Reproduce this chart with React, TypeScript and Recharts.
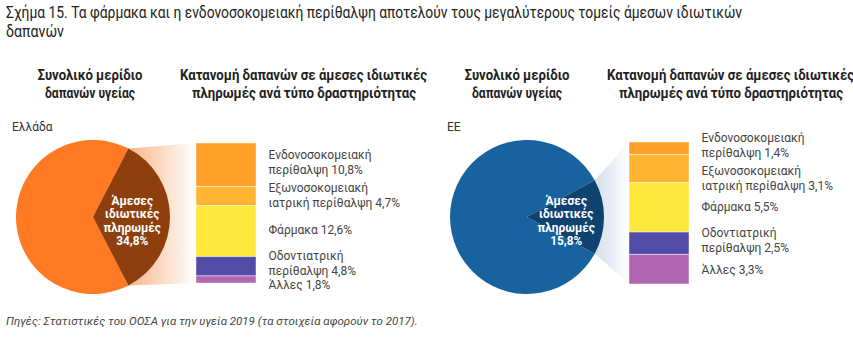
import { PieChart, Pie, Cell, Sector, BarChart, Bar, XAxis, YAxis, LabelList } from "recharts"

// categories of direct private payments, top of the bar first
const categoryKeys = ["inpatient", "outpatient", "pharma", "dental", "other"]
const categoryLines = [
  ["Ενδονοσοκομειακή", "περίθαλψη"],
  ["Εξωνοσοκομειακή", "ιατρική περίθαλψη"],
  ["Φάρμακα"],
  ["Οδοντιατρική", "περίθαλψη"],
  ["Άλλες"],
]
const greeceValues = [10.8, 4.7, 12.6, 4.8, 1.8]
const euValues = [1.4, 3.1, 5.5, 2.5, 3.3]
const greeceShare = 34.8
const euShare = 15.8
const barColors = ["#FFA02A", "#FFB531", "#FFE83B", "#524CA6", "#B066B3"]

const title1 = "Σχήμα 15. Τα φάρμακα και η ενδονοσοκομειακή περίθαλψη αποτελούν τους μεγαλύτερους τομείς άμεσων ιδιωτικών"
const title2 = "δαπανών"
const source = "Πηγές: Στατιστικές του ΟΟΣΑ για την υγεία 2019 (τα στοιχεία αφορούν το 2017)."

const FONT = "Roboto, 'Noto Sans', sans-serif"
const R = 77
const PIE_TOP = 100
const PAD = 24

const fmt = (v: number) => v.toFixed(1).replace(".", ",") + "%"

const panels = [
  {
    id: "gr", name: "Ελλάδα", share: greeceShare, values: greeceValues,
    pieColor: "#FF7A22", sliceColor: "#8E3F0E", fanColor: "#F7B588",
    left: 0, barX: 196, barTop: 143, barH: 140,
    shifts: [-2.5, -0.5, -1, -2.5, 6],
  },
  {
    id: "eu", name: "ΕΕ", share: euShare, values: euValues,
    pieColor: "#18639F", sliceColor: "#0E426F", fanColor: "#A8BED7",
    left: 434, barX: 629, barTop: 142, barH: 142,
    shifts: [-3, 9.5, 0, -2.5, 1],
  },
]

function Panel({ p }: { p: (typeof panels)[number] }) {
  const pieData = [
    { name: "Άμεσες ιδιωτικές πληρωμές", value: p.share },
    { name: "rest", value: 100 - p.share },
  ]
  const start = -(p.share * 3.6) / 2
  const barRow: Record<string, number | string> = { name: p.id }
  categoryKeys.forEach((k, i) => (barRow[k] = p.values[i]))
  const total = p.values.reduce((a, b) => a + b, 0)
  const fx = p.barX - p.left
  const fTop = p.barTop - PIE_TOP
  const fBot = p.barTop + p.barH - PIE_TOP

  const renderSlice = (props: any) => {
    if (props.index !== 0) return null
    const { cx, cy, outerRadius, midAngle, percent } = props
    const half = percent * 180
    const a1 = (midAngle + half) * (Math.PI / 180)
    const a2 = (midAngle - half) * (Math.PI / 180)
    const ux = cx + outerRadius * Math.cos(a1)
    const uy = cy - outerRadius * Math.sin(a1)
    const lx = cx + outerRadius * Math.cos(a2)
    const ly = cy - outerRadius * Math.sin(a2)
    const tx = cx + outerRadius * 0.51
    const lines = ["Άμεσες", "ιδιωτικές", "πληρωμές", fmt(p.share)]
    return (
      <g>
        <defs>
          <linearGradient id={"fan-" + p.id} gradientUnits="userSpaceOnUse" x1={cx + outerRadius * 0.45} y1={0} x2={fx} y2={0}>
            <stop offset="0" stopColor={p.fanColor} />
            <stop offset="1" stopColor="#FFFFFF" />
          </linearGradient>
        </defs>
        <polygon
          points={`${cx},${cy} ${ux},${uy} ${fx},${fTop} ${fx},${fBot} ${lx},${ly}`}
          fill={`url(#fan-${p.id})`}
        />
        <Sector cx={cx} cy={cy} innerRadius={0} outerRadius={outerRadius}
          startAngle={midAngle - half} endAngle={midAngle + half} fill={p.sliceColor} />
        <g transform={`translate(${tx},${cy + 4}) scale(0.95,1)`}>
          {lines.map((t, i) => (
            <text key={i} x={0} y={(i - 1.5) * 13.5} textAnchor="middle" dominantBaseline="central"
              fill="#FFFFFF" fontFamily={FONT} fontWeight={700} fontSize={12.5}>
              {t}
            </text>
          ))}
        </g>
      </g>
    )
  }

  const barLabel = (k: number) => (props: any) => {
    const { x, y, width, height } = props
    const lines = [...categoryLines[k]]
    lines[lines.length - 1] = lines[lines.length - 1] + " " + fmt(p.values[k])
    const cyl = Number(y) + Number(height) / 2 + p.shifts[k]
    return (
      <g>
        {lines.map((t, i) => (
          <text key={i} x={Number(x) + Number(width) + 12.5} y={cyl + (i - (lines.length - 1) / 2) * 15}
            dominantBaseline="central" fill="#444" fontFamily={FONT} fontSize={12}>
            {t}
          </text>
        ))}
      </g>
    )
  }

  const order = [...categoryKeys.keys()].reverse()

  return (
    <>
      <div style={{ position: "absolute", left: p.left, top: PIE_TOP }}>
        <PieChart width={260} height={210}>
          <Pie data={pieData} dataKey="value" cx={88} cy={112} innerRadius={0} outerRadius={R}
            startAngle={start} endAngle={start + 360} stroke="none"
            label={renderSlice} labelLine={false} isAnimationActive={false}>
            <Cell fill={p.sliceColor} />
            <Cell fill={p.pieColor} />
          </Pie>
        </PieChart>
      </div>
      <div style={{ position: "absolute", left: p.barX, top: p.barTop - PAD }}>
        <BarChart width={260} height={p.barH + PAD * 2} data={[barRow]} barCategoryGap={0}
          margin={{ top: PAD, right: 200, bottom: PAD, left: 0 }}>
          <XAxis dataKey="name" hide />
          <YAxis hide domain={[0, total]} />
          {order.map((i) => (
            <Bar key={categoryKeys[i]} dataKey={categoryKeys[i]} stackId="a" fill={barColors[i]}
              stroke="#FFFFFF" strokeOpacity={0.45} strokeWidth={1} isAnimationActive={false}>
              <LabelList dataKey={categoryKeys[i]} content={barLabel(i)} />
            </Bar>
          ))}
        </BarChart>
      </div>
    </>
  )
}

export default function App() {
  const sub = (cx: number) => (
    <>
      <text x={cx} y={80} textAnchor="middle" fontWeight={700} fontSize={14} textLength={105} lengthAdjust="spacingAndGlyphs">Συνολικό μερίδιο</text>
      <text x={cx} y={98} textAnchor="middle" fontWeight={700} fontSize={14} textLength={90} lengthAdjust="spacingAndGlyphs">δαπανών υγείας</text>
    </>
  )
  const sub2 = (x: number) => (
    <>
      <text x={x} y={80} fontWeight={700} fontSize={14} textLength={247} lengthAdjust="spacingAndGlyphs">Κατανομή δαπανών σε άμεσες ιδιωτικές</text>
      <text x={x + 12} y={98} fontWeight={700} fontSize={14} textLength={224} lengthAdjust="spacingAndGlyphs">πληρωμές ανά τύπο δραστηριότητας</text>
    </>
  )
  return (
    <div style={{ position: "absolute", left: 0, top: 0, width: 853, height: 352, background: "#fff", overflow: "hidden" }}>
      <svg width={853} height={352} style={{ position: "absolute", left: 0, top: 0 }} fontFamily={FONT} fill="#222">
        <text x={6} y={18} fontSize={16} textLength={736} lengthAdjust="spacingAndGlyphs">{title1}</text>
        <text x={6} y={37} fontSize={16} textLength={58} lengthAdjust="spacingAndGlyphs">{title2}</text>
        {sub(90)}
        {sub2(180)}
        {sub(517)}
        {sub2(607)}
        <text x={12} y={131} fontSize={12} fill="#333">{panels[0].name}</text>
        <text x={447} y={131} fontSize={12} fill="#333">{panels[1].name}</text>
        <text x={6} y={325} fontSize={11.5} fontStyle="italic" fill="#444">{source}</text>
      </svg>
      {panels.map((p) => (
        <Panel key={p.id} p={p} />
      ))}
    </div>
  )
}
